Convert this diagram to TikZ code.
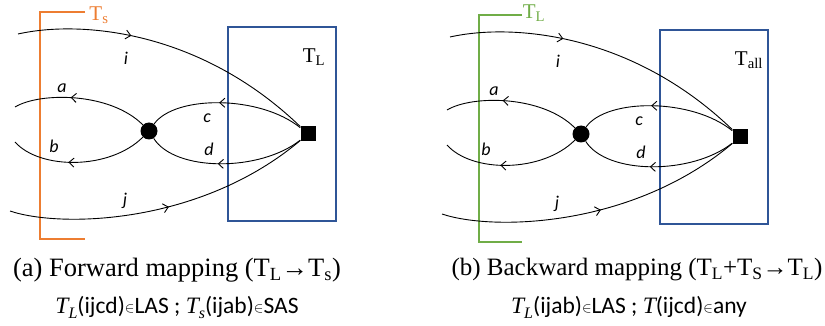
\documentclass[tikz,border=0pt]{standalone}
\usepackage{fontspec}
\setmainfont{Liberation Serif}
\newfontfamily\calib{Carlito}
\usetikzlibrary{arrows.meta,decorations.markings}
\definecolor{borange}{RGB}{237,125,49}
\definecolor{bblue}{RGB}{47,85,151}
\definecolor{bgreen}{RGB}{112,173,71}
\newcommand\myT{{\rmfamily\itshape T}}
\newcommand\mysub[1]{\raisebox{-5pt}{\fontsize{16}{16}\selectfont\rmfamily\itshape #1}}
\newcommand\myin{{\fontsize{15}{15}\selectfont\raisebox{1pt}{$\in$}}}
\tikzset{
 line/.style={line width=0.9pt, black},
 flow/.style={line, postaction={decorate}, decoration={markings, mark=at position #1 with {\arrow{Straight Barb[length=5pt,width=9pt,line width=0.9pt]}}}},
 elab/.style={font=\calib\itshape\fontsize{18}{18}\selectfont, inner sep=0pt},
 tlab/.style={font=\fontsize{21}{21}\selectfont, inner sep=0pt},
 regbox/.style={draw=bblue, line width=2pt},
 sqnode/.style={fill=black, minimum size=15pt, inner sep=0pt},
 dotnode/.style={circle, fill=black, minimum size=17pt, inner sep=0pt},
 cap1/.style={font=\fontsize{26.5}{26.5}\selectfont, inner sep=0pt},
 cap1b/.style={font=\fontsize{25}{25}\selectfont, inner sep=0pt},
 cap2/.style={font=\calib\fontsize{23.5}{23.5}\selectfont, inner sep=0pt},
}
\begin{document}
\begin{tikzpicture}[x=1pt,y=-1pt]
\useasboundingbox (0,0) rectangle (825,326);
% ---------- panel (a)
\draw[draw=borange, line width=2.5pt] (85,12) -- (40,12) -- (40,239) -- (85,239);
\node[tlab, text=borange] (tsa) at (99,15) {T\textsubscript{s}};
% ---------- panel (b) bracket
\draw[draw=bgreen, line width=2.5pt] (522,15) -- (479,15) -- (479,242) -- (522,242);
\node[tlab, text=bgreen] (tlb) at (534,13) {T\textsubscript{L}};
% ---------- shared diagram
\foreach \dx/\dy/\p in {0/0/a,432/3/b}{
\begin{scope}[shift={(\dx,\dy)}]
\draw[regbox] (228,27) rectangle (336,221);
\node[sqnode] (sq\p) at (308,134) {};
\node[dotnode] (ci\p) at (149,131) {};
\coordinate (ia\p) at (18,34);
\coordinate (aa\p) at (15,107);
\coordinate (ba\p) at (15,142);
\coordinate (ja\p) at (10,211);
\draw[flow=0.37] (ia\p) .. controls (80,20) and (200,30) .. (sq\p);
\draw[flow=0.52] (ja\p) .. controls (60,228) and (200,225) .. (sq\p);
\draw[flow=0.58] (ci\p) .. controls (110,92) and (40,92) .. (aa\p);
\draw[flow=0.58] (ci\p) .. controls (110,170) and (40,170) .. (ba\p);
\draw[flow=0.55] (sq\p) .. controls (260,95) and (175,95) .. (ci\p);
\draw[flow=0.55] (sq\p) .. controls (260,172) and (175,172) .. (ci\p);
\node[elab] (li\p) at (126,58) {i};
\node[elab] (la\p) at (62,88) {a};
\node[elab] (lb\p) at (54,146) {b};
\node[elab] (lc\p) at (207,118) {c};
\node[elab] (ld\p) at (209,149) {d};
\node[elab] (lj\p) at (125,201) {j};
\end{scope}
}
\node[tlab] (tla) at (314,57) {T\textsubscript{L}};
\node[tlab] (talb) at (749,60) {T\textsubscript{all}};
% ---------- captions
\node[cap1] (capa1) at (177,270) {(a) Forward mapping (T\textsubscript{L}→T\textsubscript{s})};
\node[cap2] (capa2) at (177,307) {\myT\mysub{L}(ijcd)\myin LAS ; \myT\mysub{s}(ijab)\myin SAS};
\node[cap1b] (capb1) at (637,270) {(b) Backward mapping (T\textsubscript{L}+T\textsubscript{S}→T\textsubscript{L})};
\node[cap2] (capb2) at (629,307) {\myT\mysub{L}(ijab)\myin LAS ; \myT(ijcd)\myin any};
\end{tikzpicture}
\end{document}
